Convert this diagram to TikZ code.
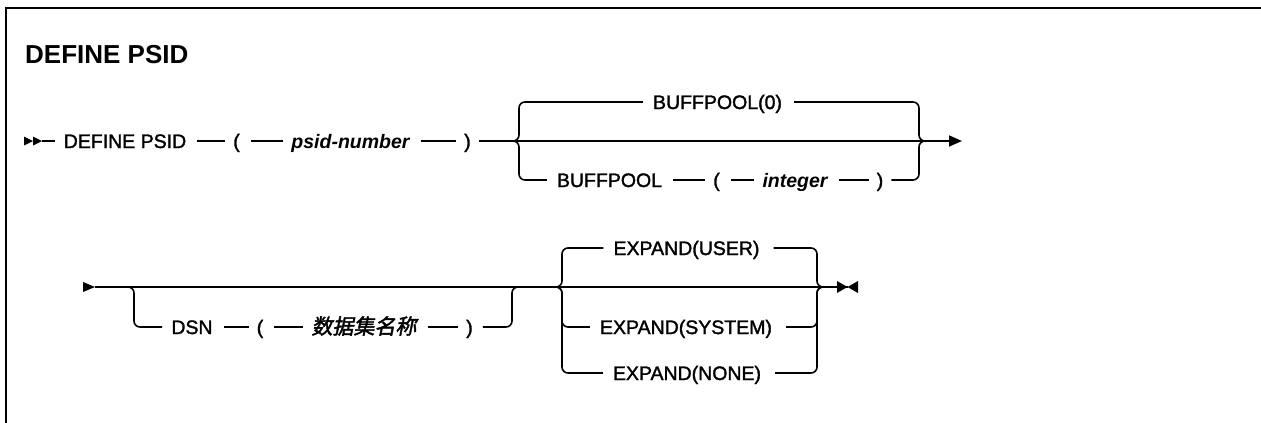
\documentclass[tikz,border=0pt]{standalone}
\usepackage{fontspec}
\setmainfont{Liberation Sans}
\newfontfamily\railfont[FakeBold=1.6]{Liberation Sans}
\newfontfamily\cjkit[FakeSlant=0.2,FakeBold=2]{Noto Sans CJK SC}
\usetikzlibrary{arrows.meta}
\newcommand\rrfont{\railfont\fontsize{19.5}{23}\selectfont}
\tikzset{
  rail/.style={line width=1.6pt, rounded corners=6pt},
  seg/.style={rail, shorten <=11pt, shorten >=8pt},
  lbl/.style={inner xsep=0pt, inner ysep=0pt, text height=14pt, text depth=0pt, font=\rrfont, anchor=center},
  var/.style={lbl, font=\fontsize{19.5}{23}\selectfont\bfseries\itshape},
  cjkvar/.style={lbl, font=\cjkit\fontsize{21}{24}\selectfont},
  endtip/.style={-{Triangle[length=13pt,width=11pt]}}
}
\begin{document}
\begin{tikzpicture}[x=1pt,y=-1pt]
\useasboundingbox (0,0) rectangle (1261,423);
% frame
\draw[line width=2pt] (5.5,423) -- (5.5,8) -- (1261,8);
% title
\node[anchor=base west, inner sep=0pt, font=\fontsize{26}{30}\selectfont\bfseries] (title) at (25,63) {DEFINE PSID};

% ---------- row 1 ----------
\fill (24,136.5) -- (33,141) -- (24,145.5) -- cycle;
\fill (33,136.5) -- (42,141) -- (33,145.5) -- cycle;
\coordinate (s1) at (42,141);
\node[lbl] (def) at (125,141) {DEFINE PSID};
\node[lbl] (lp1) at (236.5,141) {(};
\node[var] (psid) at (350.5,141) {psid-number};
\node[lbl] (rp1) at (467.5,141) {)};
\coordinate (b1l) at (511,141);
\coordinate (b1lv) at (519,141);
\coordinate (b1rv) at (919,141);
\coordinate (b1r) at (927,141);
\coordinate (e1) at (962,141);
\node[lbl] (bp0) at (717.5,102) {BUFFPOOL(0)};
\node[lbl] (bp) at (609.5,180) {BUFFPOOL};
\node[lbl] (lp2) at (716.5,180) {(};
\node[var] (int) at (795,180) {integer};
\node[lbl] (rp2) at (880,180) {)};

\draw[rail, shorten >=9pt] (s1) -- (def.west);
\draw[seg] (def.east) -- (lp1.west);
\draw[seg] (lp1.east) -- (psid.west);
\draw[seg] (psid.east) -- (rp1.west);
\draw[rail, shorten <=8pt, endtip] (rp1.east) -- (e1);

\draw[rail, shorten >=10pt] (b1l) -| (b1lv |- bp0) -- (bp0.west);
\draw[rail, shorten <=12pt] (bp0.east) -| (b1rv) -- (b1r);

\draw[rail, shorten >=10pt] (b1l) -| (b1lv |- bp) -- (bp.west);
\draw[seg] (bp.east) -- (lp2.west);
\draw[seg] (lp2.east) -- (int.west);
\draw[seg] (int.east) -- (rp2.west);
\draw[rail, shorten <=8pt] (rp2.east) -| (b1rv) -- (b1r);

% ---------- row 2 ----------
\fill (83,282) -- (95,287) -- (83,292) -- cycle;
\coordinate (s2) at (95,287);
\coordinate (d1) at (125,287);
\coordinate (d1v) at (134,287);
\node[lbl] (dsn) at (192,327) {DSN};
\node[lbl] (lp3) at (260,327) {(};
\node[cjkvar] (dsname) at (364,327) {数据集名称};
\node[lbl] (rp3) at (469.5,327) {)};
\coordinate (d2v) at (512,287);
\coordinate (d2) at (520,287);
\coordinate (b2l) at (555,287);
\coordinate (b2lv) at (562,287);
\coordinate (b2rv) at (817,287);
\coordinate (b2r) at (824,287);
\coordinate (e2) at (847.5,287);
\node[lbl] (eu) at (686.5,248) {EXPAND(USER)};
\node[lbl] (es) at (686,327) {EXPAND(SYSTEM)};
\node[lbl] (en) at (687,373) {EXPAND(NONE)};

\draw[rail] (s2) -- (e2);
\draw[rail, shorten >=9pt] (d1) -| (d1v |- dsn) -- (dsn.west);
\draw[seg] (dsn.east) -- (lp3.west);
\draw[seg] (lp3.east) -- (dsname.west);
\draw[seg] (dsname.east) -- (rp3.west);
\draw[rail, shorten <=10pt] (rp3.east) -| (d2v) -- (d2);

\draw[rail, shorten >=10pt] (b2l) -| (b2lv |- eu) -- (eu.west);
\draw[rail, shorten <=14pt] (eu.east) -| (b2rv) -- (b2r);
\draw[rail, shorten >=10pt] (b2l) -| (b2lv |- es) -- (es.west);
\draw[rail, shorten <=14pt] (es.east) -| (b2rv) -- (b2r);
\draw[rail, shorten >=10pt] (b2l) -| (b2lv |- en) -- (en.west);
\draw[rail, shorten <=14pt] (en.east) -| (b2rv) -- (b2r);

\fill (837,281) -- (847.5,287) -- (837,293) -- cycle;
\fill (858,281) -- (847.5,287) -- (858,293) -- cycle;
\end{tikzpicture}
\end{document}
